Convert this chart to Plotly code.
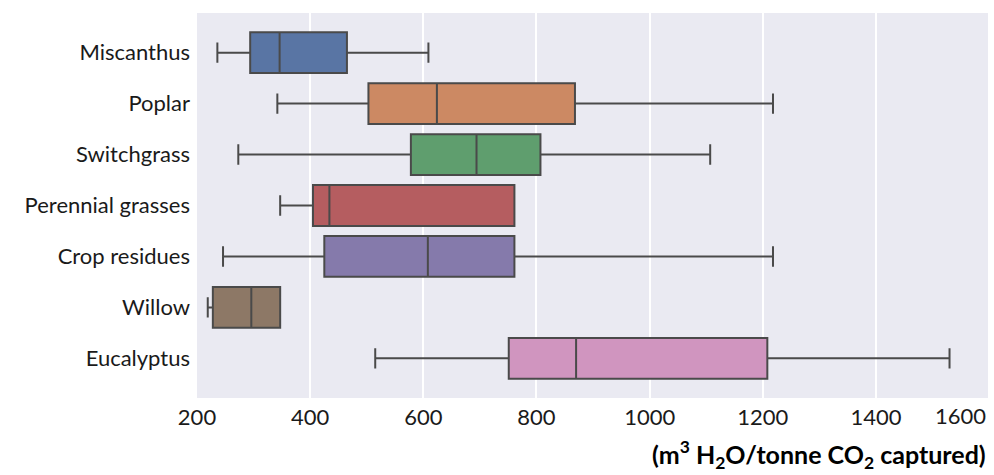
import plotly.graph_objects as go

categories = ["Miscanthus", "Poplar", "Switchgrass", "Perennial grasses",
              "Crop residues", "Willow", "Eucalyptus"]
lower = [236, 342, 273, 347, 246, 219, 515]
q1 = [294, 503, 578, 405, 425, 228, 751]
median = [346, 624, 694, 434, 608, 296, 870]
q3 = [465, 868, 807, 761, 761, 347, 1208]
upper = [609, 1218, 1107, 761, 1218, 347, 1530]
colors = ["#5975a4", "#cc8963", "#5f9e6e", "#b55d60", "#857aab", "#8d7866", "#d095bf"]
tick_vals = [200, 400, 600, 800, 1000, 1200, 1400]
last_tick = "1600"

fig = go.Figure()
for i, c in enumerate(categories):
    fig.add_trace(go.Box(
        y=[c], q1=[q1[i]], median=[median[i]], q3=[q3[i]],
        lowerfence=[lower[i]], upperfence=[upper[i]],
        orientation="h", fillcolor=colors[i],
        line=dict(color="#4a4a4a", width=2), width=0.8, whiskerwidth=0.5,
        boxpoints=False, showlegend=False, hoverinfo="x",
    ))

fig.update_layout(
    width=994, height=475,
    margin=dict(l=197, r=6, t=13, b=77),
    paper_bgcolor="white", plot_bgcolor="#EAEAF2",
    boxmode="overlay",
    font=dict(family="Lato", size=22, color="#1a1a1a"),
)
fig.update_xaxes(range=[200, 1598], tickvals=tick_vals, showgrid=True,
                 gridcolor="white", gridwidth=1.5, zeroline=False,
                 showline=False, ticks="", ticklabelstandoff=4,
                 tickfont=dict(size=22))
fig.update_yaxes(categoryorder="array", categoryarray=categories,
                 autorange="reversed", showgrid=False, zeroline=False,
                 ticks="", ticklabelstandoff=6, tickfont=dict(size=22))
fig.add_annotation(text=last_tick, xref="paper", yref="paper", x=1.0, y=0,
                   xanchor="right", yanchor="top", yshift=-2, showarrow=False,
                   font=dict(size=22, family="Lato", color="#1a1a1a"))
fig.add_annotation(text="<b>(m<sup>3</sup> H<sub>2</sub>O/tonne CO<sub>2</sub> captured)</b>",
                   xref="paper", yref="paper", x=1.0, y=0, xanchor="right",
                   yanchor="top", yshift=-36, showarrow=False,
                   font=dict(size=25, family="Lato", color="black"))
fig.write_html("out.html", config={"displayModeBar": False},
               post_script="document.body.style.margin='0';")
